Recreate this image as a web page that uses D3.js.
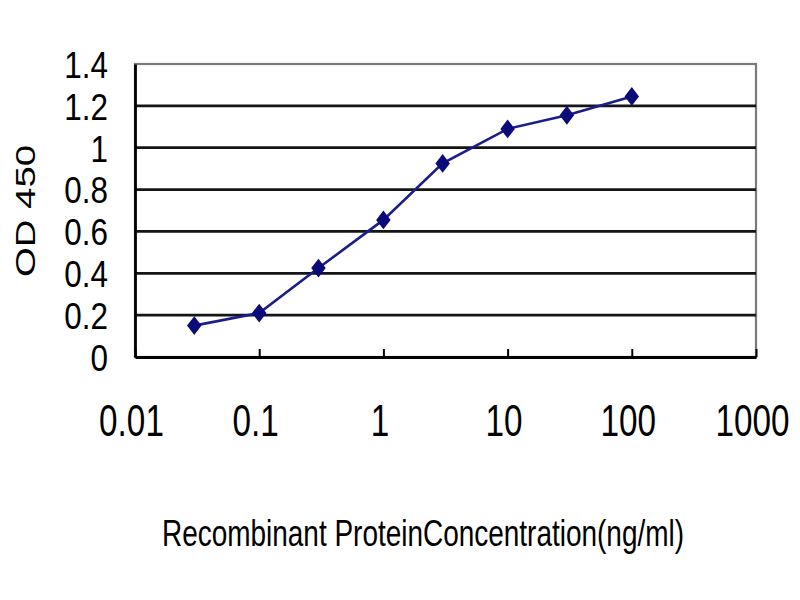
<!DOCTYPE html>
<html>
<head>
<meta charset="utf-8">
<script src="https://cdn.jsdelivr.net/npm/d3@7"></script>
<style>
  body { margin: 0; background: #fff; }
  text { font-family: "Liberation Sans", Arial, sans-serif; fill: #000; }
</style>
</head>
<body>
<div id="chart"></div>
<script>
// concentration (ng/ml) and OD450 readings
const concentrations = [0.03, 0.1, 0.3, 1, 3, 10, 30, 100];
const od450 = [0.15, 0.21, 0.425, 0.655, 0.925, 1.09, 1.155, 1.245];

const xTickValues = [0.01, 0.1, 1, 10, 100, 1000];
const xTickLabels = ["0.01", "0.1", "1", "10", "100", "1000"];
const yTickValues = [0, 0.2, 0.4, 0.6, 0.8, 1, 1.2, 1.4];
const yTickLabels = ["0", "0.2", "0.4", "0.6", "0.8", "1", "1.2", "1.4"];

const width = 800;
const height = 600;
const plot = { left: 135, right: 756, top: 64, bottom: 357 };

const svg = d3.select("#chart")
    .append("svg")
    .attr("width", width)
    .attr("height", height);

const x = d3.scaleLog()
    .domain([0.01, 1000])
    .range([plot.left, plot.right]);

const y = d3.scaleLinear()
    .domain([0, 1.4])
    .range([plot.bottom, plot.top]);

//plot background
svg.append("rect")
    .attr("x", plot.left)
    .attr("y", plot.top)
    .attr("width", plot.right - plot.left)
    .attr("height", plot.bottom - plot.top)
    .attr("fill", "#fff")
    .attr("stroke", "#7a7a7a")
    .attr("stroke-width", 2.2);

//horizontal gridlines (skip top and bottom, those are the frame)
svg.append("g")
    .selectAll("line")
    .data(yTickValues.slice(1, -1))
    .enter().append("line")
    .attr("x1", plot.left)
    .attr("x2", plot.right)
    .attr("y1", d => y(d))
    .attr("y2", d => y(d))
    .attr("stroke", "#151515")
    .attr("stroke-width", 2.8);

//left axis
const yAxis = svg.append("g")
    .attr("transform", `translate(${plot.left},0)`)
    .call(d3.axisLeft(y)
        .tickValues(yTickValues)
        .tickFormat((d, i) => yTickLabels[i])
        .tickSize(0));

yAxis.select(".domain").attr("stroke", "#000").attr("stroke-width", 2.8);
yAxis.selectAll("text")
    .attr("x", -27 / 0.85)
    .attr("dy", "0.36em")
    .attr("transform", "scale(0.85,1)")
    .style("font-size", "37px");

//bottom axis, ticks point into the plot
const xAxis = svg.append("g")
    .attr("transform", `translate(0,${plot.bottom})`)
    .call(d3.axisBottom(x)
        .tickValues(xTickValues)
        .tickFormat((d, i) => xTickLabels[i])
        .tickSizeInner(-8)
        .tickSizeOuter(0));

xAxis.select(".domain").attr("stroke", "#000").attr("stroke-width", 2.8);
xAxis.selectAll(".tick line").attr("stroke", "#000").attr("stroke-width", 2);
xAxis.selectAll("text")
    .attr("y", 79)
    .attr("dy", 0)
    .attr("x", -4 / 0.74)
    .attr("transform", "scale(0.74,1)")
    .style("font-size", "45px");

//data line
const line = d3.line()
    .x(d => x(d[0]))
    .y(d => y(d[1]));

const points = concentrations.map((c, i) => [c, od450[i]]);

svg.append("path")
    .datum(points)
    .attr("d", line)
    .attr("fill", "none")
    .attr("stroke", "#1c1c8c")
    .attr("stroke-width", 2.6);

//diamond markers, a bit taller than wide like the original
const diamond = {
    draw(context, size) {
        const w = Math.sqrt(size) * 0.5;
        const h = w * 1.3;
        context.moveTo(0, -h);
        context.lineTo(w, 0);
        context.lineTo(0, h);
        context.lineTo(-w, 0);
        context.closePath();
    }
};

svg.append("g")
    .selectAll("path")
    .data(points)
    .enter().append("path")
    .attr("transform", d => `translate(${x(d[0])},${y(d[1])})`)
    .attr("d", d3.symbol().type(diamond).size(210))
    .attr("fill", "#0a0a78");

//axis titles
svg.append("text")
    .attr("transform", "translate(35,211) rotate(-90)")
    .attr("text-anchor", "middle")
    .attr("textLength", 132)
    .attr("lengthAdjust", "spacingAndGlyphs")
    .style("font-size", "28px")
    .text("OD 450");

svg.append("text")
    .attr("x", 423)
    .attr("y", 546)
    .attr("text-anchor", "middle")
    .attr("textLength", 522)
    .attr("lengthAdjust", "spacingAndGlyphs")
    .style("font-size", "37px")
    .text("Recombinant ProteinConcentration(ng/ml)");
</script>
</body>
</html>
